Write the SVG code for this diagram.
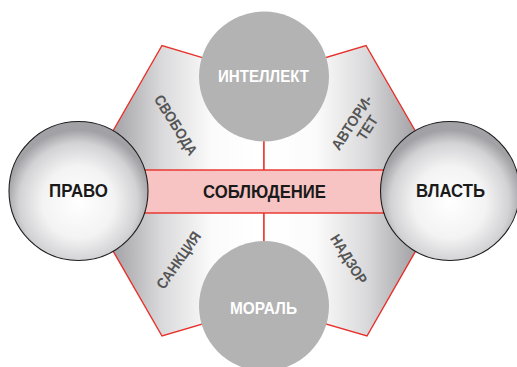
<svg xmlns="http://www.w3.org/2000/svg" width="517" height="367" viewBox="0 0 517 367">
<defs>
<linearGradient id="gL" x1="0" y1="0" x2="1" y2="0">
<stop offset="0" stop-color="#8e8e92"/>
<stop offset="0.2" stop-color="#a6a6aa"/>
<stop offset="0.45" stop-color="#dadadc"/>
<stop offset="0.72" stop-color="#fbfbfb"/>
<stop offset="1" stop-color="#ffffff"/>
</linearGradient>
<linearGradient id="gR" x1="1" y1="0" x2="0" y2="0">
<stop offset="0" stop-color="#8e8e92"/>
<stop offset="0.2" stop-color="#a6a6aa"/>
<stop offset="0.45" stop-color="#dadadc"/>
<stop offset="0.72" stop-color="#fbfbfb"/>
<stop offset="1" stop-color="#ffffff"/>
</linearGradient>
<radialGradient id="gC" cx="0.5" cy="0.58" r="0.52">
<stop offset="0" stop-color="#ffffff"/>
<stop offset="0.5" stop-color="#f3f3f3"/>
<stop offset="0.82" stop-color="#d2d2d5"/>
<stop offset="1" stop-color="#a2a2a6"/>
</radialGradient>
</defs>
<style>
.q{stroke:#e8302a;stroke-width:1.4;stroke-linejoin:miter}
.big{fill:url(#gC);stroke:#1e1e1e;stroke-width:1.1}
.gray{fill:#b3b3b3}
.t{font-family:"Liberation Sans",Arial,sans-serif;font-weight:bold;text-anchor:middle}
.dk{fill:#1a1a1a;font-size:18px}
.wh{fill:#ffffff;font-size:16.5px}
.lb{fill:#555555;font-size:15px}
</style>
<g id="connectors">
<polygon class="q" points="78.5,191 162,45.5 264,76 264,191" fill="url(#gL)"/>
<polygon class="q" points="264,76 366,45.5 450,191 264,191" fill="url(#gR)"/>
<polygon class="q" points="78.5,191 264,191 264,306 162,336" fill="url(#gL)"/>
<polygon class="q" points="264,191 450,191 367,336 264,306" fill="url(#gR)"/>
</g>
<g id="soblyudenie">
<rect x="130" y="170" width="270" height="43" fill="#f8c4c3" stroke="#e8302a" stroke-width="1.4"/>
<text class="t dk" x="264.5" y="198" textLength="123" lengthAdjust="spacingAndGlyphs">СОБЛЮДЕНИЕ</text>
</g>
<g id="intellekt">
<circle class="gray" cx="264" cy="76.5" r="65"/>
<text class="t wh" x="263.5" y="82" textLength="91" lengthAdjust="spacingAndGlyphs">ИНТЕЛЛЕКТ</text>
</g>
<g id="moral">
<circle class="gray" cx="264" cy="306" r="65"/>
<text class="t wh" x="263.5" y="314" textLength="67" lengthAdjust="spacingAndGlyphs">МОРАЛЬ</text>
</g>
<g id="pravo">
<circle class="big" cx="78.5" cy="191" r="69.5"/>
<text class="t dk" x="78.5" y="197" textLength="59" lengthAdjust="spacingAndGlyphs">ПРАВО</text>
</g>
<g id="vlast">
<circle class="big" cx="450" cy="191" r="69.5"/>
<text class="t dk" x="450.5" y="197" textLength="69" lengthAdjust="spacingAndGlyphs">ВЛАСТЬ</text>
</g>
<g id="svoboda">
<text class="t lb" transform="translate(176,125) rotate(58)" y="5.4" textLength="68" lengthAdjust="spacingAndGlyphs">СВОБОДА</text>
</g>
<g id="avtoritet">
<g transform="translate(359.5,125) rotate(-57)">
<text class="t lb" x="-2" y="-2.6" textLength="62" lengthAdjust="spacingAndGlyphs">АВТОРИ-</text>
<text class="t lb" x="2" y="13.4" textLength="26" lengthAdjust="spacingAndGlyphs">ТЕТ</text>
</g>
</g>
<g id="sankciya">
<text class="t lb" transform="translate(178.5,260) rotate(-55)" y="5.4" textLength="66" lengthAdjust="spacingAndGlyphs">САНКЦИЯ</text>
</g>
<g id="nadzor">
<text class="t lb" transform="translate(349,259) rotate(58)" y="5.4" textLength="55" lengthAdjust="spacingAndGlyphs">НАДЗОР</text>
</g>
</svg>
